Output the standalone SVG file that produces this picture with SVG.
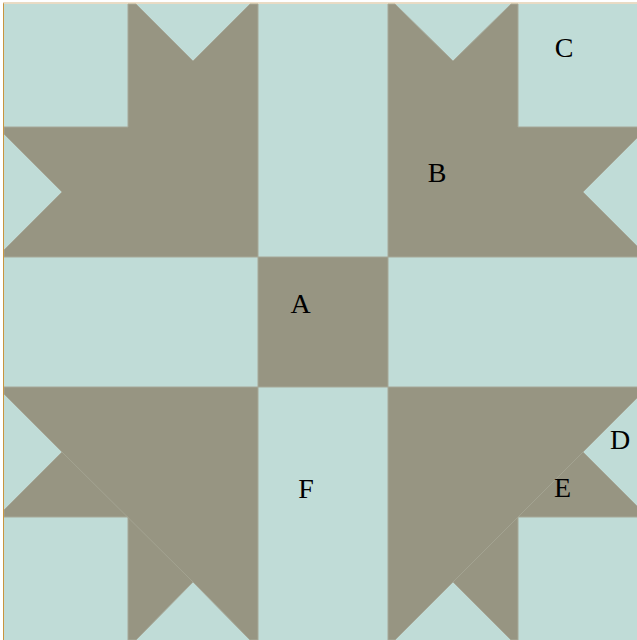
<svg xmlns="http://www.w3.org/2000/svg" width="637" height="640" viewBox="0 0 637 640">
  <style>
    .light { fill: #c0dcd7; }
    .dark { fill: #979582; stroke: #a6a898; stroke-width: 1; }
    .seam { stroke: #a3a391; stroke-width: 1; fill: none; }
    .lbl { font-family: "Liberation Serif", "Times New Roman", serif; font-size: 28px; fill: #000; text-anchor: middle; }
  </style>
  <rect x="0" y="0" width="637" height="640" fill="#ffffff"/>
  <rect id="background" class="light" x="4" y="4" width="637" height="636"/>
  <g id="quadrant-top-left">
    <polygon class="dark" points="128,4 136,4 193,61 250,4 258,4 258,257 4,257 4,250 62,192 4,134 4,127 128,127"/>
  </g>
  <g id="quadrant-top-right">
    <polygon class="dark" points="388,4 395,4 453,61 511,4 518,4 518,127 641,127 641,134 583,192 641,250 641,257 388,257"/>
  </g>
  <g id="quadrant-bottom-left">
    <polygon class="dark" points="4,387 258,387 258,640 250,640 193,582 136,640 128,640 128,517 4,517 4,510 62,452 4,394"/>
    <line class="seam" x1="62" y1="452" x2="193" y2="582"/>
  </g>
  <g id="quadrant-bottom-right">
    <polygon class="dark" points="388,387 641,387 641,394 583,452 641,510 641,517 518,517 518,640 511,640 453,582 395,640 388,640"/>
    <line class="seam" x1="583" y1="452" x2="453" y2="582"/>
  </g>
  <g id="center-square">
    <rect class="dark" x="258" y="257" width="130" height="130"/>
  </g>
  <g id="border">
    <line x1="3.5" y1="3" x2="3.5" y2="640" stroke="#c8943f" stroke-width="1"/>
    <line x1="3" y1="3" x2="637" y2="3" stroke="#d4b88a" stroke-width="1"/>
  </g>
  <g id="labels">
    <text class="lbl" x="300.5" y="313">A</text>
    <text class="lbl" x="437" y="182">B</text>
    <text class="lbl" x="564" y="57">C</text>
    <text class="lbl" x="620" y="449">D</text>
    <text class="lbl" x="562.5" y="497">E</text>
    <text class="lbl" x="306" y="498">F</text>
  </g>
</svg>
